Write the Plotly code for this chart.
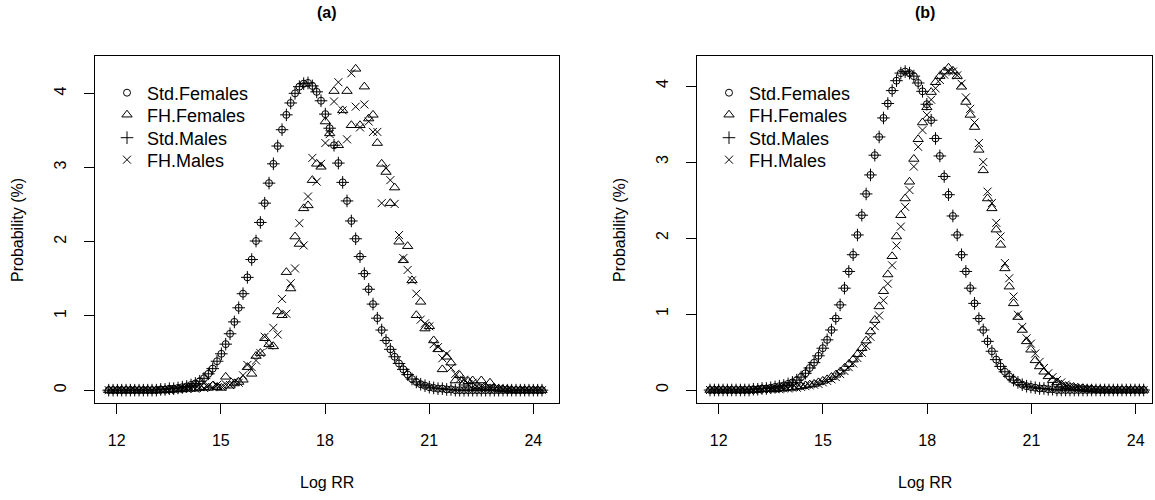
import numpy as np
import plotly.graph_objects as go

# ---------------- data ----------------
series_names = ["Std.Females", "FH.Females", "Std.Males", "FH.Males"]
x_ticks = [12, 15, 18, 21, 24]
y_ticks = [0, 1, 2, 3, 4]

# Log RR grids (bin centres) for each panel
log_rr_a = np.linspace(11.77, 24.25, 101)
log_rr_b = np.linspace(11.75, 24.23, 101)

# Panel (a)
std_females_a = [0]*12 + [
    0.01, 0.01, 0.02, 0.02, 0.03, 0.04, 0.05, 0.07, 0.09, 0.12, 0.16,
    0.22, 0.29, 0.39, 0.49, 0.62, 0.76, 0.92, 1.11, 1.30, 1.52,
    1.76, 2.01, 2.26, 2.52, 2.79, 3.05, 3.29, 3.51, 3.71, 3.87,
    4.00, 4.09, 4.13, 4.14, 4.10, 4.02, 3.90, 3.72, 3.53, 3.30,
    3.06, 2.80, 2.55, 2.28, 2.04, 1.80, 1.57, 1.36, 1.16, 0.97,
    0.81, 0.67, 0.55, 0.45, 0.36, 0.28, 0.21, 0.15, 0.11, 0.08,
    0.06, 0.04, 0.03, 0.02, 0.02, 0.01, 0.01] + [0]*21
std_males_a = [0]*12 + [
    0.01, 0.01, 0.02, 0.02, 0.03, 0.04, 0.05, 0.07, 0.09, 0.12, 0.16,
    0.22, 0.29, 0.39, 0.49, 0.62, 0.76, 0.92, 1.11, 1.30, 1.52,
    1.76, 2.01, 2.26, 2.52, 2.79, 3.05, 3.29, 3.51, 3.71, 3.87,
    4.00, 4.09, 4.13, 4.14, 4.10, 4.02, 3.90, 3.72, 3.53, 3.30,
    3.06, 2.80, 2.55, 2.28, 2.04, 1.80, 1.57, 1.36, 1.16, 0.97,
    0.81, 0.67, 0.55, 0.45, 0.36, 0.28, 0.21, 0.15, 0.11, 0.08,
    0.06, 0.04, 0.03, 0.02, 0.02, 0.01, 0.01] + [0]*21
fh_females_a = [0]*15 + [
    0.01, 0.01, 0.01, 0.02, 0.02,
    0.02, 0.03, 0.04, 0.03, 0.06, 0.04, 0.03, 0.18, 0.06, 0.09,
    0.11, 0.14, 0.31, 0.22, 0.46, 0.50, 0.70, 0.62, 0.59, 1.06,
    1.01, 1.59, 1.37, 2.07, 1.97, 2.45, 2.49, 2.83, 3.05, 3.01,
    3.62, 3.46, 4.03, 3.30, 3.77, 4.03, 3.57, 4.33, 3.57, 4.09,
    3.66, 3.71, 3.33, 3.05, 2.94, 2.52, 2.73, 2.00, 1.75, 1.94,
    1.48, 1.01, 1.19, 0.83, 0.86, 0.67, 0.55, 0.28, 0.45, 0.37,
    0.13, 0.20, 0.10, 0.12, 0.13, 0.05, 0.13, 0.04, 0.10, 0.03,
    0.02, 0.01, 0.01] + [0]*8
fh_males_a = [0]*15 + [
    0.01, 0.01, 0.02, 0.02, 0.03,
    0.02, 0.04, 0.03, 0.06, 0.04, 0.07, 0.05, 0.08, 0.07, 0.12,
    0.10, 0.20, 0.34, 0.31, 0.40, 0.50, 0.72, 0.60, 0.84, 0.75,
    1.23, 1.03, 1.44, 1.64, 2.25, 1.95, 2.61, 3.13, 2.81, 3.05,
    3.33, 3.45, 3.89, 4.15, 3.77, 3.38, 4.27, 3.82, 3.54, 3.85,
    3.62, 3.48, 3.48, 2.52, 2.99, 2.83, 2.51, 2.09, 1.78, 1.62,
    1.48, 1.30, 0.95, 0.90, 0.86, 0.62, 0.58, 0.43, 0.49, 0.30,
    0.22, 0.15, 0.14, 0.08, 0.10, 0.05, 0.06, 0.03, 0.04, 0.02,
    0.02, 0.01, 0.01] + [0]*8

# Panel (b)
std_females_b = [0]*10 + [
    0.01, 0.01, 0.02, 0.02, 0.03, 0.04, 0.05, 0.06, 0.08, 0.10,
    0.13, 0.17, 0.22,
    0.29, 0.36, 0.45, 0.55, 0.66, 0.79, 0.94, 1.12, 1.34, 1.56,
    1.78, 2.04, 2.30, 2.58, 2.83, 3.09, 3.33, 3.58, 3.77, 3.94,
    4.07, 4.17, 4.19, 4.17, 4.13, 4.04, 3.93, 3.76, 3.55, 3.31,
    3.08, 2.81, 2.57, 2.29, 2.04, 1.78, 1.56, 1.34, 1.14, 0.94,
    0.79, 0.64, 0.51, 0.40, 0.31, 0.24, 0.18, 0.13, 0.10, 0.07,
    0.05, 0.04, 0.03, 0.02, 0.02, 0.01, 0.01] + [0]*21
std_males_b = [0]*10 + [
    0.01, 0.01, 0.02, 0.02, 0.03, 0.04, 0.05, 0.06, 0.08, 0.10,
    0.13, 0.17, 0.22,
    0.29, 0.36, 0.45, 0.55, 0.66, 0.79, 0.94, 1.12, 1.34, 1.56,
    1.78, 2.04, 2.30, 2.58, 2.83, 3.09, 3.33, 3.58, 3.77, 3.94,
    4.07, 4.17, 4.19, 4.17, 4.13, 4.04, 3.93, 3.76, 3.55, 3.31,
    3.08, 2.81, 2.57, 2.29, 2.04, 1.78, 1.56, 1.34, 1.14, 0.94,
    0.79, 0.64, 0.51, 0.40, 0.31, 0.24, 0.18, 0.13, 0.10, 0.07,
    0.05, 0.04, 0.03, 0.02, 0.02, 0.01, 0.01] + [0]*21
fh_females_b = [0]*12 + [
    0.01, 0.01, 0.01, 0.01, 0.02, 0.02, 0.03, 0.03,
    0.04, 0.05, 0.06, 0.07, 0.08, 0.10, 0.12, 0.14, 0.17, 0.20,
    0.24, 0.29, 0.34, 0.40, 0.47, 0.55, 0.65, 0.77, 0.92, 1.10,
    1.30, 1.52, 1.76, 2.02, 2.30, 2.52, 2.74, 3.04, 3.30, 3.52,
    3.72, 3.92, 4.05, 4.13, 4.19, 4.24, 4.20, 4.13, 3.99, 3.79,
    3.62, 3.46, 3.16, 2.89, 2.52, 2.39, 2.11, 1.91, 1.60, 1.36,
    1.14, 0.96, 0.79, 0.64, 0.53, 0.39, 0.31, 0.24, 0.18, 0.13,
    0.10, 0.07, 0.05, 0.04, 0.03, 0.02, 0.02, 0.01, 0.01] + [0]*12
fh_males_b = [0]*12 + [
    0.01, 0.01, 0.01, 0.01, 0.01, 0.02, 0.02, 0.03,
    0.03, 0.04, 0.05, 0.06, 0.07, 0.08, 0.10, 0.12, 0.14, 0.17,
    0.21, 0.25, 0.30, 0.35, 0.42, 0.49, 0.58, 0.70, 0.84, 0.98,
    1.18, 1.40, 1.64, 1.90, 2.15, 2.41, 2.63, 2.94, 3.20, 3.42,
    3.62, 3.82, 3.97, 4.08, 4.15, 4.20, 4.19, 4.14, 4.03, 3.85,
    3.70, 3.52, 3.25, 3.00, 2.61, 2.46, 2.20, 2.02, 1.67, 1.47,
    1.23, 0.99, 0.83, 0.68, 0.61, 0.48, 0.37, 0.29, 0.22, 0.17,
    0.13, 0.10, 0.07, 0.05, 0.04, 0.03, 0.02, 0.02, 0.01, 0.01] + [0]*11

# ---------------- styling ----------------
W, H = 1155, 500
FONT = "Liberation Sans, Arial, Helvetica, sans-serif"
symbols = ["circle-open", "triangle-up-open", "cross-thin-open", "x-thin-open"]
sizes = [7, 9, 9, 8]

def px_x(p):
    return p / W

def px_y(p):
    return 1 - p / H

fig = go.Figure()

legend_rows_px = [93, 115, 138, 160]
panels = [
    ("x", "y", 107, log_rr_a, [std_females_a, fh_females_a, std_males_a, fh_males_a], 0),
    ("x2", "y2", 709, log_rr_b, [std_females_b, fh_females_b, std_males_b, fh_males_b], 4),
]
legend_layouts = {}
for xa, ya, leg_x, xs, ys_list, leg_off in panels:
    for k, (name, sym, sz, ys) in enumerate(zip(series_names, symbols, sizes, ys_list)):
        idx = leg_off + k + 1
        leg_name = "legend" if idx == 1 else f"legend{idx}"
        fig.add_trace(go.Scatter(
            x=xs, y=ys, mode="markers", name=name,
            xaxis=xa, yaxis=ya, legend=leg_name,
            marker=dict(symbol=sym, size=sz, color="black",
                        line=dict(color="black", width=1)),
        ))
        legend_layouts[leg_name] = dict(
            x=px_x(leg_x), y=px_y(legend_rows_px[k]),
            xanchor="left", yanchor="middle",
            bgcolor="rgba(0,0,0,0)", borderwidth=0,
            font=dict(family=FONT, size=18, color="black"),
            itemwidth=30, tracegroupgap=0,
        )

axis_common = dict(
    showgrid=False, zeroline=False, showline=True, mirror=True,
    linecolor="black", linewidth=1, ticks="outside", ticklen=10,
    tickwidth=1, tickcolor="black",
    tickfont=dict(family=FONT, size=16, color="black"),
)

box_top, box_bot = 56, 403
xdom_a = [px_x(95), px_x(559)]
xdom_b = [px_x(697), px_x(1152)]
ydom = [px_y(box_bot), px_y(box_top)]

fig.update_layout(
    width=W, height=H,
    margin=dict(l=0, r=0, t=0, b=0),
    paper_bgcolor="white", plot_bgcolor="white",
    font=dict(family=FONT, color="black"),
    xaxis=dict(domain=xdom_a, range=[11.375, 24.74], tickvals=x_ticks,
               ticklabelstandoff=13, anchor="y", **axis_common),
    yaxis=dict(domain=ydom, range=[-0.173, 4.503], tickvals=y_ticks,
               tickangle=-90, ticklabelstandoff=12, anchor="x", **axis_common),
    xaxis2=dict(domain=xdom_b, range=[11.375, 24.47], tickvals=x_ticks,
                ticklabelstandoff=13, anchor="y2", **axis_common),
    yaxis2=dict(domain=ydom, range=[-0.171, 4.395], tickvals=y_ticks,
                tickangle=-90, ticklabelstandoff=12, anchor="x2", **axis_common),
    showlegend=True,
    **legend_layouts,
)

annos = [
    dict(text="<b>(a)</b>", x=px_x(327), y=px_y(12)),
    dict(text="<b>(b)</b>", x=px_x(925), y=px_y(12)),
    dict(text="Log RR", x=px_x(327), y=px_y(482)),
    dict(text="Log RR", x=px_x(925), y=px_y(482)),
]
for a in annos:
    fig.add_annotation(xref="paper", yref="paper", showarrow=False,
                       xanchor="center", yanchor="middle",
                       font=dict(family=FONT, size=16, color="black"), **a)
for xc in (18, 620):
    fig.add_annotation(xref="paper", yref="paper", showarrow=False,
                       text="Probability (%)", textangle=-90,
                       x=px_x(xc), y=px_y(230), xanchor="center", yanchor="middle",
                       font=dict(family=FONT, size=16, color="black"))

fig.write_html("out.html")
